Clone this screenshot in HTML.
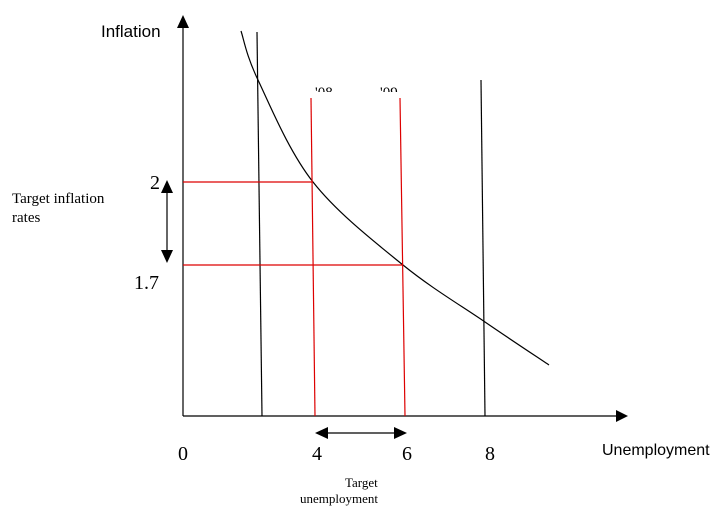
<!DOCTYPE html>
<html><head><style>body{margin:0;background:#fff;}svg{display:block}</style></head><body>
<svg width="720" height="514" xmlns="http://www.w3.org/2000/svg">
<g font-family="Liberation Sans, sans-serif" fill="#000">
<text x="101" y="37" font-size="17">Inflation</text>
<text x="602" y="455" font-size="16">Unemployment</text>
</g>
<g font-family="Liberation Serif, serif" fill="#000">
<text x="150" y="189" font-size="20">2</text>
<text x="134" y="289" font-size="20">1.7</text>
<text x="12" y="203" font-size="15">Target inflation</text>
<text x="12" y="222" font-size="15">rates</text>
<text x="178" y="460" font-size="20">0</text>
<text x="312" y="460" font-size="20">4</text>
<text x="402" y="460" font-size="20">6</text>
<text x="485" y="460" font-size="20">8</text>
<text x="345" y="487" font-size="13">Target</text>
<text x="300" y="503" font-size="13">unemployment</text>
<text x="315" y="97" font-size="15">'08</text>
<text x="380" y="97" font-size="15">'09</text>
</g>
<rect x="300" y="92" width="120" height="10" fill="#fff"/>
<g stroke="#000" stroke-width="1.2" fill="none">
<line x1="183" y1="416" x2="183" y2="28"/>
<line x1="183" y1="416" x2="616" y2="416"/>
<line x1="257" y1="32" x2="262" y2="416"/>
<line x1="481" y1="80" x2="485" y2="416"/>
<path d="M241,31 C243.8,39.2 246,54.8 258,80 C270,105.2 288.8,151.2 313,182 C337.2,212.8 374.3,241.7 403,265 C431.7,288.3 460.7,305.3 485,322 C509.3,338.7 538.3,357.8 549,365"/>
<line x1="167" y1="192" x2="167" y2="252"/>
<line x1="326" y1="433" x2="396" y2="433"/>
</g>
<g stroke="#d00" stroke-width="1.2">
<line x1="311" y1="98" x2="315" y2="416"/>
<line x1="400" y1="98" x2="405" y2="416"/>
<line x1="183" y1="182" x2="313" y2="182"/>
<line x1="183" y1="265" x2="403" y2="265"/>
</g>
<g fill="#000">
<polygon points="183,15 177,28 189,28"/>
<polygon points="628,416 616,410 616,422"/>
<polygon points="167,180 161,193 173,193"/>
<polygon points="167,263 161,250 173,250"/>
<polygon points="315,433 328,427 328,439"/>
<polygon points="407,433 394,427 394,439"/>
</g>
</svg>
</body></html>
